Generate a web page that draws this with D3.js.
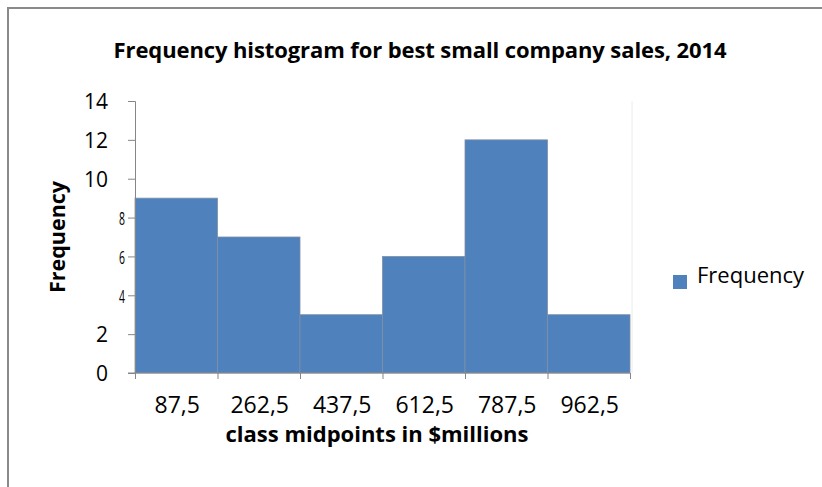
<!doctype html>
<html>
<head>
  <meta charset="utf-8">
  <title>Frequency histogram</title>
  <style>
    body { margin: 0; background: #fff; }
    svg { font-family: "Open Sans", sans-serif; }
  </style>
</head>
<body>
  <div class="graphContainer"></div>
  <script src="https://cdn.jsdelivr.net/npm/d3@7"></script>
  <script>

let midpoints = ["87,5", "262,5", "437,5", "612,5", "787,5", "962,5"];
let frequencies = [9, 7, 3, 6, 12, 3];
let yTicks = [0, 2, 4, 6, 8, 10, 12, 14];
let narrowTicks = [4, 6, 8];   // these labels are squeezed in the original

function histogram() {
    var w = 822,
        h = 487;

    let left = 135, right = 630,
        top = 101, bottom = 373;

    var canvas = d3.select(".graphContainer")
        .append("svg")
        .attr("width", w)
        .attr("height", h);

    // outer frame (only top and left are visible)
    canvas.append("path")
        .attr("d", `M8,${h} L8,8 L${w},8`)
        .attr("fill", "none")
        .attr("stroke", "#8a8a8a")
        .attr("stroke-width", 2);

    var x = d3.scaleBand()
        .domain(midpoints)
        .range([left, right])
        .padding(0);

    var y = d3.scaleLinear()
        .domain([0, 14])
        .range([bottom, top]);

    // faint plot area right edge
    canvas.append("line")
        .attr("x1", right + 2).attr("x2", right + 2)
        .attr("y1", top).attr("y2", bottom)
        .attr("stroke", "#ececec");

    canvas.selectAll("rect.bar")
        .data(frequencies)
        .enter()
        .append("rect")
        .attr("class", "bar")
        .attr("x", (d, i) => x(midpoints[i]))
        .attr("y", d => y(d))
        .attr("width", x.bandwidth())
        .attr("height", d => y(0) - y(d))
        .attr("fill", "#4f81bd")
        .attr("stroke", "#7f8fa6")
        .attr("stroke-width", 0.8);

    // y axis
    var yAxis = d3.axisLeft(y)
        .tickValues(yTicks)
        .tickSize(7)
        .tickPadding(0)
        .tickFormat(d3.format("d"));

    var gy = canvas.append("g")
        .attr("transform", `translate(${left},0)`)
        .call(yAxis);

    gy.select(".domain").attr("stroke", "#868686");
    gy.selectAll(".tick line").attr("stroke", "#868686");
    gy.selectAll(".tick text")
        .attr("fill", "#000")
        .attr("font-family", "'Open Sans', sans-serif")
        .attr("font-size", d => narrowTicks.includes(d) ? 19 : 21)
        .attr("x", d => narrowTicks.includes(d) ? -10 / 0.55 : -27)
        .attr("transform", d => narrowTicks.includes(d) ? "scale(0.55,1)" : null)
        .attr("dy", "0.36em");

    // x axis, ticks at band edges
    var xEdges = d3.scaleLinear().domain([0, midpoints.length]).range([left, right]);
    var gx = canvas.append("g")
        .attr("transform", `translate(0,${bottom})`)
        .call(d3.axisBottom(xEdges).ticks(midpoints.length).tickSize(6).tickFormat(""));
    gx.select(".domain").attr("stroke", "#868686").attr("d", `M${left - 7},0H${right}`);
    gx.selectAll(".tick line").attr("stroke", "#868686");

    canvas.append("g")
        .selectAll("text")
        .data(midpoints)
        .enter()
        .append("text")
        .attr("x", d => x(d) + x.bandwidth() / 2 + 1)
        .attr("y", 413)
        .attr("text-anchor", "middle")
        .attr("font-size", 23)
        .attr("fill", "#000")
        .text(d => d);

    // titles
    canvas.append("text")
        .attr("x", 420)
        .attr("y", 58)
        .attr("text-anchor", "middle")
        .attr("font-size", 22)
        .attr("font-weight", "bold")
        .attr("letter-spacing", -0.1)
        .text("Frequency histogram for best small company sales, 2014");

    canvas.append("text")
        .attr("x", 377)
        .attr("y", 442)
        .attr("text-anchor", "middle")
        .attr("font-size", 22)
        .attr("font-weight", "bold")
        .text("class midpoints in $millions");

    canvas.append("text")
        .attr("transform", "translate(65,237) rotate(-90)")
        .attr("text-anchor", "middle")
        .attr("font-size", 21.5)
        .attr("font-weight", "bold")
        .text("Frequency");

    // legend
    canvas.append("rect")
        .attr("x", 673).attr("y", 275)
        .attr("width", 14).attr("height", 14)
        .attr("fill", "#4f81bd");
    canvas.append("text")
        .attr("x", 697).attr("y", 283)
        .attr("font-size", 22)
        .text("Frequency");
}

histogram();

  </script>
</body>
</html>
